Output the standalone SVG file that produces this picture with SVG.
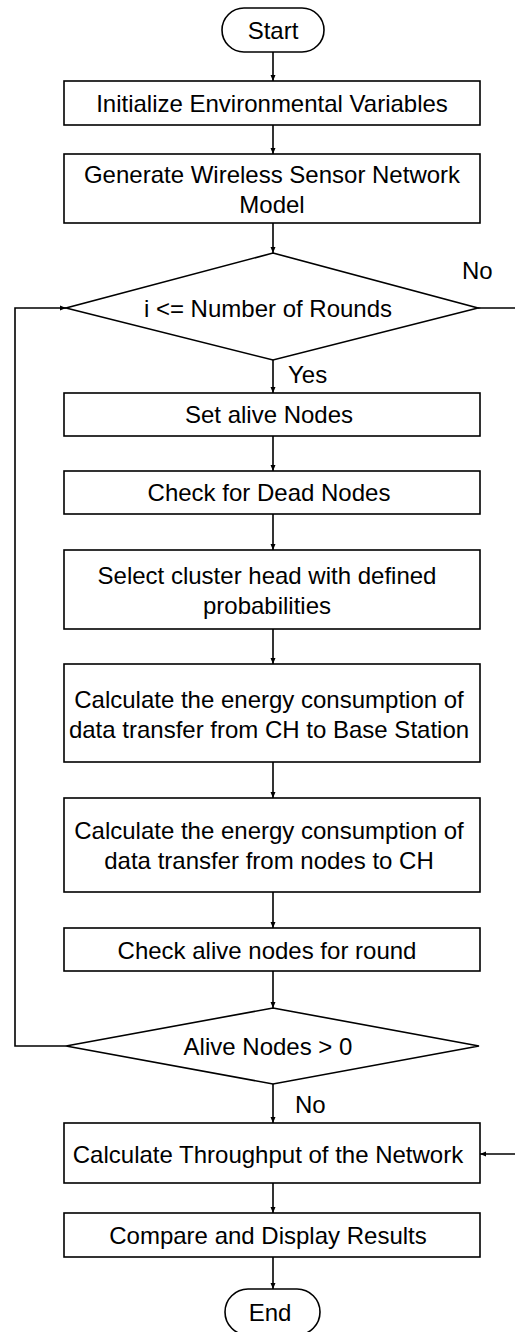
<svg xmlns="http://www.w3.org/2000/svg" width="515" height="1332" viewBox="0 0 515 1332">
<defs>
<marker id="arr" markerUnits="userSpaceOnUse" markerWidth="6" markerHeight="6" refX="6" refY="3" orient="auto">
<path d="M0,0.5 L6,3 L0,5.5 z" fill="#000"/>
</marker>
<style>
.s{fill:#fff;stroke:#000;stroke-width:1.6}
.t{font-family:"Liberation Sans",Arial,sans-serif;font-size:24px;fill:#000;text-anchor:middle}
.l{font-family:"Liberation Sans",Arial,sans-serif;font-size:24px;fill:#000}
.c{fill:none;stroke:#000;stroke-width:1.6}
</style>
</defs>
<rect width="515" height="1332" fill="#fff"/>
<g id="connectors">
<line class="c" x1="273" y1="52" x2="273" y2="81" marker-end="url(#arr)"/>
<line class="c" x1="273" y1="125" x2="273" y2="154" marker-end="url(#arr)"/>
<line class="c" x1="273" y1="223" x2="273" y2="253" marker-end="url(#arr)"/>
<line class="c" x1="273" y1="360" x2="273" y2="393" marker-end="url(#arr)"/>
<line class="c" x1="273" y1="436" x2="273" y2="471" marker-end="url(#arr)"/>
<line class="c" x1="273" y1="514" x2="273" y2="550" marker-end="url(#arr)"/>
<line class="c" x1="273" y1="629" x2="273" y2="664" marker-end="url(#arr)"/>
<line class="c" x1="273" y1="762" x2="273" y2="798" marker-end="url(#arr)"/>
<line class="c" x1="273" y1="892" x2="273" y2="928" marker-end="url(#arr)"/>
<line class="c" x1="273" y1="971" x2="273" y2="1008" marker-end="url(#arr)"/>
<line class="c" x1="273" y1="1084" x2="273" y2="1123" marker-end="url(#arr)"/>
<line class="c" x1="273" y1="1183" x2="273" y2="1213" marker-end="url(#arr)"/>
<line class="c" x1="273" y1="1257" x2="273" y2="1289" marker-end="url(#arr)"/>
<polyline class="c" points="66,1046 15,1046 15,308 66,308" marker-end="url(#arr)"/>
<line class="c" x1="478" y1="308" x2="515" y2="308"/>
<line class="c" x1="515" y1="1154" x2="480" y2="1154" marker-end="url(#arr)"/>
<text class="l" x="462" y="279">No</text>
<text class="l" x="288" y="383">Yes</text>
<text class="l" x="295" y="1113">No</text>
</g>
<g id="start">
<rect class="s" x="222" y="8" width="102" height="44" rx="22"/>
<text class="t" x="273" y="39">Start</text>
</g>
<g id="init">
<rect class="s" x="64" y="81" width="416" height="44"/>
<text class="t" x="272" y="112">Initialize Environmental Variables</text>
</g>
<g id="generate">
<rect class="s" x="64" y="154" width="416" height="69"/>
<text class="t" x="272" y="183">Generate Wireless Sensor Network</text>
<text class="t" x="272" y="213">Model</text>
</g>
<g id="decision1">
<polygon class="s" points="273,253 478,308 273,360 66,308"/>
<text class="t" x="268" y="317">i &lt;= Number of Rounds</text>
</g>
<g id="setalive">
<rect class="s" x="64" y="393" width="416" height="43"/>
<text class="t" x="269" y="423">Set alive Nodes</text>
</g>
<g id="checkdead">
<rect class="s" x="64" y="471" width="416" height="43"/>
<text class="t" x="269" y="501">Check for Dead Nodes</text>
</g>
<g id="selectch">
<rect class="s" x="64" y="550" width="416" height="79"/>
<text class="t" x="267" y="584">Select cluster head with defined</text>
<text class="t" x="267" y="614">probabilities</text>
</g>
<g id="energych">
<rect class="s" x="64" y="664" width="416" height="98"/>
<text class="t" x="269" y="708">Calculate the energy consumption of</text>
<text class="t" x="269" y="738">data transfer from CH to Base Station</text>
</g>
<g id="energynodes">
<rect class="s" x="64" y="798" width="416" height="94"/>
<text class="t" x="269" y="839">Calculate the energy consumption of</text>
<text class="t" x="269" y="869">data transfer from nodes to CH</text>
</g>
<g id="checkalive">
<rect class="s" x="64" y="928" width="416" height="43"/>
<text class="t" x="267" y="959">Check alive nodes for round</text>
</g>
<g id="decision2">
<polygon class="s" points="273,1008 479,1046 273,1084 66,1046"/>
<text class="t" x="268" y="1055">Alive Nodes &gt; 0</text>
</g>
<g id="throughput">
<rect class="s" x="64" y="1123" width="416" height="60"/>
<text class="t" x="268" y="1163">Calculate Throughput of the Network</text>
</g>
<g id="compare">
<rect class="s" x="64" y="1213" width="416" height="44"/>
<text class="t" x="268" y="1244">Compare and Display Results</text>
</g>
<g id="end">
<rect class="s" x="225" y="1289" width="95" height="46" rx="23"/>
<text class="t" x="270" y="1321">End</text>
</g>
</svg>
